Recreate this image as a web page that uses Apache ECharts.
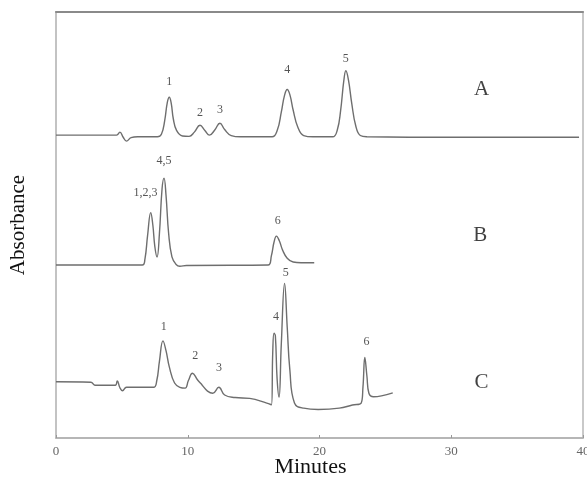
<!DOCTYPE html>
<html>
<head>
<meta charset="utf-8">
<script src="https://cdn.jsdelivr.net/npm/echarts@6/dist/echarts.min.js"></script>
<style>html,body{margin:0;padding:0;background:#fff}#c{width:587px;height:479px}</style>
</head>
<body>
<div id="c"></div>
<script>
// Time (minutes) ticks
const xTicks = [0, 10, 20, 30, 40];

// Trace A: [minutes, absorbance (arbitrary units, offset)]
const traceA = [
  [0,71.1],[3,71.1],[4.6,71.1],[4.85,71.8],[5.1,70.6],[5.35,69.7],[5.7,70.5],[6.2,70.7],
  [7.7,70.7],[8.0,71.3],[8.25,74.5],[8.45,78.8],[8.6,80.0],[8.75,78.5],[8.9,75.0],[9.15,72.2],
  [9.6,70.9],[10.1,70.8],[10.5,71.8],[10.93,73.4],[11.3,72.2],[11.65,71.1],[12.05,72.3],
  [12.44,73.9],[12.8,72.4],[13.3,71.0],[14,70.7],[16.4,70.7],[16.8,72.3],[17.1,76.5],
  [17.35,80.5],[17.55,81.8],[17.75,80.6],[18.0,77.0],[18.35,73.0],[18.8,71.0],[19.5,70.7],
  [21.0,70.7],[21.35,72.3],[21.6,76.8],[21.85,84.0],[22.0,86.2],[22.2,84.0],[22.45,78.5],
  [22.75,73.3],[23.1,71.0],[23.6,70.7],[30,70.6],[39.7,70.6]
];

// Trace B
const traceB = [
  [0,40.6],[6.55,40.6],[6.75,42.0],[6.95,47.5],[7.19,52.9],[7.35,50.0],[7.5,45.0],[7.67,42.5],
  [7.85,48.0],[8.05,58.5],[8.2,61.0],[8.35,57.0],[8.55,48.0],[8.8,42.5],[9.1,40.8],[9.4,40.3],
  [9.9,40.5],[16.1,40.6],[16.35,42.8],[16.55,46.0],[16.73,47.4],[16.95,46.3],[17.2,44.1],
  [17.55,42.2],[18.0,41.3],[18.6,41.15],[19.6,41.15]
];

// Trace C
const traceC = [
  [0,13.2],[2.65,13.1],[2.95,12.4],[4.5,12.4],[4.65,13.4],[4.85,11.8],[5.05,11.1],[5.35,11.9],
  [7.4,11.9],[7.65,13.5],[7.85,18.0],[8.12,22.8],[8.35,20.5],[8.6,16.7],[9.0,12.9],[9.4,11.9],
  [9.8,11.7],[10.05,13.5],[10.36,15.2],[10.75,13.6],[11.1,12.4],[11.5,11.0],[11.9,10.5],
  [12.36,11.9],[12.8,10.1],[13.6,9.5],[14.7,9.3],[16.0,8.2],[16.35,7.8],[16.45,20.0],
  [16.55,24.6],[16.65,24.0],[16.78,14.0],[16.93,9.6],[17.1,22.0],[17.35,36.3],[17.55,26.0],
  [17.75,16.0],[18.1,8.2],[18.8,7.0],[19.9,6.7],[21.5,7.0],[22.5,7.75],[23.15,8.15],
  [23.3,12.0],[23.44,18.9],[23.6,14.5],[23.75,10.5],[24.1,9.7],[24.7,9.9],[25.56,10.6]
];

// Peak labels: [text, minutes, absorbance]
const labelsA = [["1",8.6,83.6],["2",10.93,76.3],["3",12.44,77.0],["4",17.55,86.4],["5",22.0,89.0]];
const labelsB = [["1,2,3",6.8,57.5],["4,5",8.2,65.1],["6",16.83,50.9]];
const labelsC = [["1",8.17,26.1],["2",10.56,19.3],["3",12.37,16.4],["4",16.69,28.5],["5",17.44,38.7],["6",23.57,22.6]];

// Trace names: [text, minutes, absorbance]
const traceNames = [["A",32.3,81.8],["B",32.2,47.6],["C",32.3,13.1]];

const serif = '"Liberation Serif","DejaVu Serif",serif';
const lineColor = '#6e6e6e';

function peakMarks(list) {
  return {
    symbol: 'circle', symbolSize: 0, silent: true,
    label: { show: true, color: '#555', fontFamily: serif, fontSize: 12, position: 'inside' },
    data: list.map(d => ({ coord: [d[1], d[2]], value: d[0], label: { formatter: d[0] } }))
  };
}
function traceSeries(name, data, labels) {
  return {
    name, type: 'line', data, showSymbol: false, smooth: 0.45,
    lineStyle: { color: lineColor, width: 1.4 }, silent: true, animation: false,
    markPoint: peakMarks(labels)
  };
}

const chart = echarts.init(document.getElementById('c'), null, { renderer: 'canvas' });
chart.setOption({
  animation: false,
  backgroundColor: '#fff',
  grid: { left: 56, right: 4, top: 12, bottom: 41, outerBoundsMode: 'none', containLabel: false,
          show: true, borderColor: '#b8b8b8', borderWidth: 1.5 },
  xAxis: [{
    type: 'value', min: xTicks[0], max: xTicks[xTicks.length - 1], interval: 10,
    name: 'Minutes', nameLocation: 'middle', nameGap: 18, nameMoveOverlap: false,
    nameTextStyle: { fontFamily: serif, fontSize: 22, color: '#111', padding: [0, 18, 0, 0] },
    axisLine: { show: true, lineStyle: { color: '#b0b0b0', width: 1.5 } },
    axisTick: { show: true, inside: true, length: 3, lineStyle: { color: '#999' } },
    axisLabel: { fontFamily: serif, fontSize: 13, color: '#666', margin: 7 },
    splitLine: { show: false }
  }, {
    type: 'value', position: 'top', min: 0, max: 40,
    axisLine: { show: true, lineStyle: { color: '#8a8a8a', width: 2 } },
    axisTick: { show: false }, axisLabel: { show: false }, splitLine: { show: false }
  }],
  yAxis: {
    type: 'value', min: 0, max: 100,
    name: 'Absorbance', nameLocation: 'middle', nameGap: 27, nameRotate: 90, nameMoveOverlap: false,
    nameTextStyle: { fontFamily: serif, fontSize: 21, color: '#111' },
    axisLine: { show: true, lineStyle: { color: '#c0c0c0', width: 1.5 } },
    axisTick: { show: false }, axisLabel: { show: false }, splitLine: { show: false }
  },
  series: [
    traceSeries('A', traceA, labelsA),
    traceSeries('B', traceB, labelsB),
    traceSeries('C', traceC, labelsC),
    {
      type: 'scatter', silent: true, symbolSize: 0,
      data: traceNames.map(d => ({ value: [d[1], d[2]], label: { formatter: d[0] } })),
      label: { show: true, position: 'inside', fontFamily: serif, fontSize: 21, color: '#111' }
    }
  ]
});
</script>
</body>
</html>
